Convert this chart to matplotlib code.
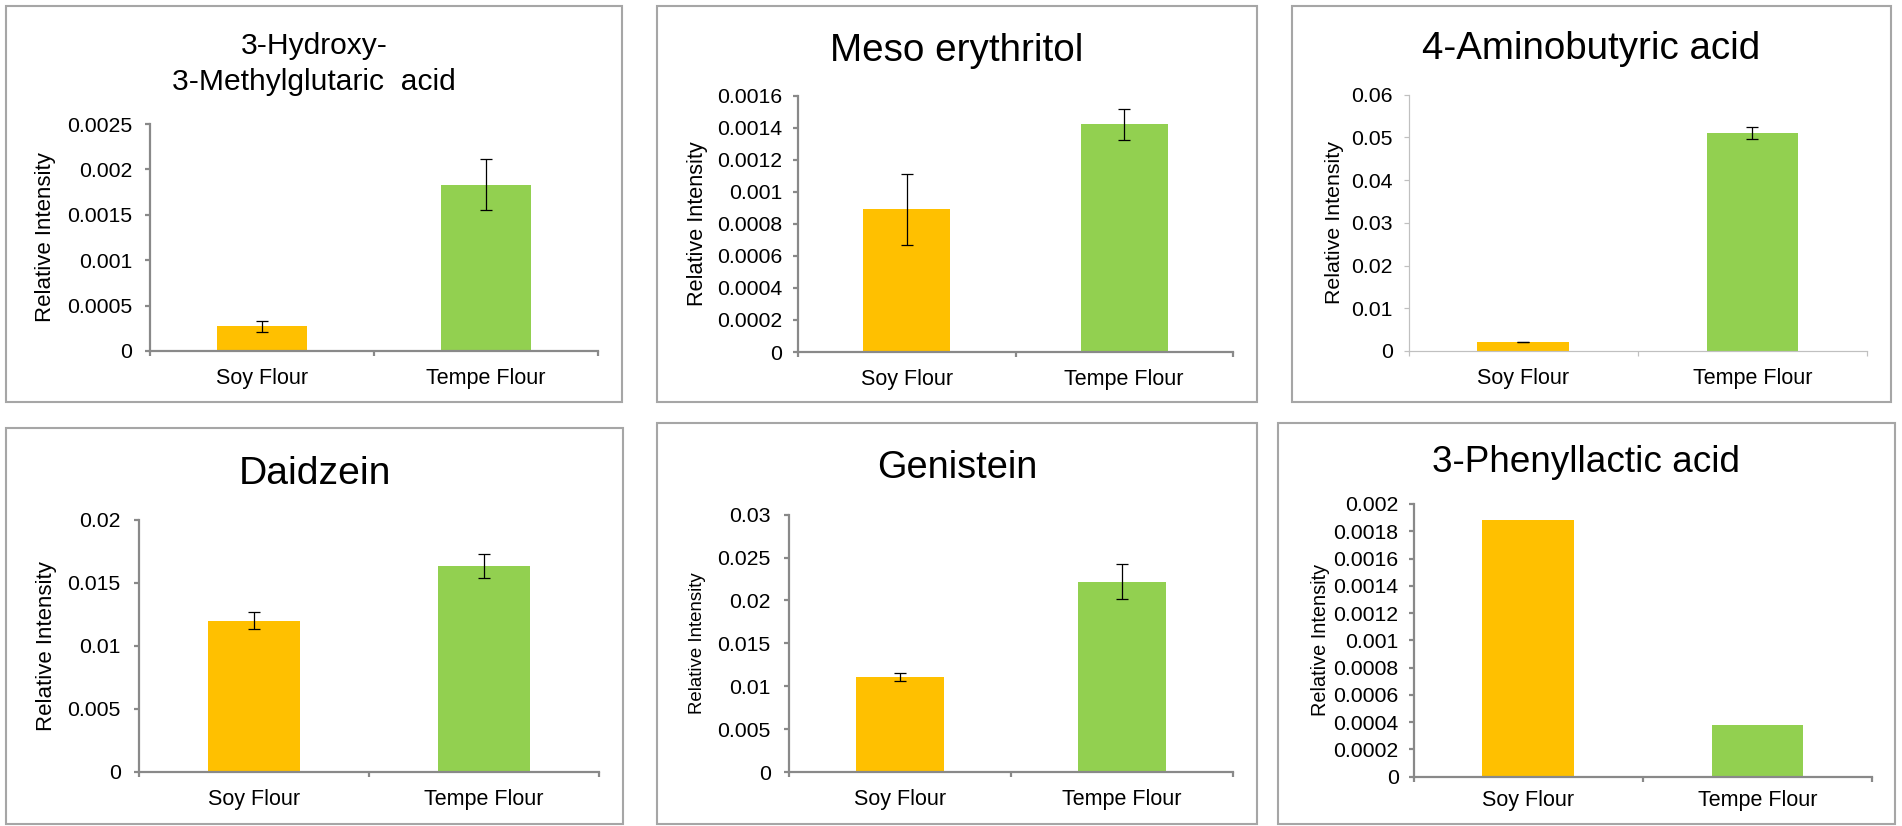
import matplotlib
matplotlib.use("Agg")
import numpy as np
import matplotlib.pyplot as plt
from matplotlib.patches import Rectangle
from matplotlib.ticker import FuncFormatter

plt.rcParams['font.family'] = ['Liberation Sans', 'DejaVu Sans']

# ---- data ----
categories = ["Soy Flour", "Tempe Flour"]
bar_colors = ["#FFC000", "#92D050"]

titles = [
    "3-Hydroxy-\n3-Methylglutaric  acid",
    "Meso erythritol",
    "4-Aminobutyric acid",
    "Daidzein",
    "Genistein",
    "3-Phenyllactic acid",
]

hmg_mean = [0.00027, 0.00183]
hmg_err = [0.000065, 0.00028]
meso_mean = [0.00089, 0.00142]
meso_err = [0.00022, 0.000095]
gaba_mean = [0.0021, 0.0511]
gaba_err = [0.00005, 0.0014]
daid_mean = [0.0120, 0.0163]
daid_err = [0.0007, 0.00095]
gen_mean = [0.0111, 0.0222]
gen_err = [0.0005, 0.0020]
pla_mean = [0.00188, 0.000375]
pla_err = None

means = [hmg_mean, meso_mean, gaba_mean, daid_mean, gen_mean, pla_mean]
errs = [hmg_err, meso_err, gaba_err, daid_err, gen_err, pla_err]

y_max = [0.0025, 0.0016, 0.06, 0.02, 0.03, 0.002]
y_step = [0.0005, 0.0002, 0.01, 0.005, 0.005, 0.0002]

# ---- layout (pixels in a 1902x826 canvas) ----
W, H = 1902, 826
DPI = 100
PX = 72.0 / DPI  # points per pixel

panel_box = [(6, 6, 622, 402), (657, 6, 1257, 402), (1292, 6, 1891, 402),
             (6, 428, 623, 824), (657, 423, 1257, 824), (1278, 423, 1895, 824)]
axes_box = [(150, 598, 124, 351), (798, 1233, 95.6, 352), (1408.5, 1867, 94.6, 351),
            (139, 599, 519.7, 771.8), (789, 1233, 514.7, 772), (1413.5, 1872, 504, 776.6)]
title_base = [(54, 89.5), (61,), (59,), (483.6,), (477.6,), (471.8,)]
title_size = [21.6, 27.8, 27.7, 28.2, 27.4, 26.6]
ylab_x = [46, 698, 1335, 47, 698, 1320]
ylab_size = [16, 15.6, 15.4, 16, 13.4, 14.3]
ytick_pad = [13, 11, 10.5, 13.4, 13.5, 10]
xtick_pad = [17, 17, 17, 17.7, 17, 13.4]
axis_color = ['#898989', '#898989', '#c0c0c0', '#898989', '#898989', '#898989']
axis_lw = [2.2, 2.2, 1.2, 2.2, 2.2, 2.2]


def fmt(v, pos):
    s = f"{v:.6f}".rstrip("0").rstrip(".")
    return s if s else "0"


fig = plt.figure(figsize=(W / DPI, H / DPI), dpi=DPI)
fig.patch.set_facecolor("white")

for i in range(6):
    bx0, by0, bx1, by1 = panel_box[i]
    fig.add_artist(Rectangle((bx0 / W, 1 - by1 / H), (bx1 - bx0) / W, (by1 - by0) / H,
                             transform=fig.transFigure, fill=False,
                             edgecolor="#a6a6a6", linewidth=1.5 * PX * 1.4))

    x0, x1, ytop, yzero = axes_box[i]
    ax = fig.add_axes([x0 / W, 1 - yzero / H, (x1 - x0) / W, (yzero - ytop) / H])
    ax.set_facecolor("none")

    xs = np.arange(len(categories))
    ax.bar(xs, means[i], width=0.4, color=bar_colors, zorder=2)
    if errs[i] is not None:
        ax.errorbar(xs, means[i], yerr=errs[i], fmt="none", ecolor="black",
                    elinewidth=0.9, capsize=4, capthick=0.9, zorder=3)

    ax.set_xlim(-0.5, 1.5)
    ax.set_ylim(0, y_max[i])
    ax.set_yticks(np.arange(0, y_max[i] + y_step[i] / 2, y_step[i]))
    ax.yaxis.set_major_formatter(FuncFormatter(fmt))
    ax.set_xticks(xs)
    ax.set_xticklabels(categories)
    ax.set_xticks([-0.5, 0.5, 1.5], minor=True)

    c = axis_color[i]
    lw = axis_lw[i] * PX
    for s in ("top", "right"):
        ax.spines[s].set_visible(False)
    for s in ("left", "bottom"):
        ax.spines[s].set_color(c)
        ax.spines[s].set_linewidth(lw)

    ax.tick_params(axis="y", direction="out", length=5 * PX, width=lw, color=c,
                   pad=ytick_pad[i] * PX, labelsize=15.3, labelcolor="black")
    ax.tick_params(axis="x", which="major", length=0, pad=xtick_pad[i] * PX,
                   labelsize=15.5, labelcolor="black")
    ax.tick_params(axis="x", which="minor", direction="out", length=5 * PX,
                   width=lw, color=c)

    # chart title, centred on the whole panel
    cx = (bx0 + bx1) / 2 / W
    for line, base in zip(titles[i].split("\n"), title_base[i]):
        fig.text(cx, 1 - base / H, line, ha="center", va="baseline",
                 fontsize=title_size[i], color="black")

    fig.text(ylab_x[i] / W, 1 - (ytop + yzero) / 2 / H, "Relative Intensity",
             rotation=90, ha="center", va="center", fontsize=ylab_size[i], color="black")

fig.savefig("out.png", dpi=DPI, facecolor="white")
